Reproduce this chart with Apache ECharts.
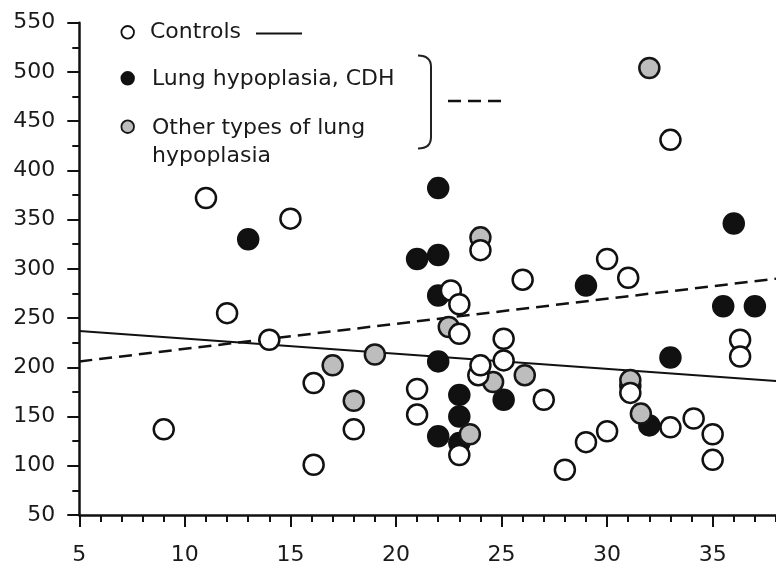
<!DOCTYPE html>
<html>
<head>
<meta charset="utf-8">
<script src="https://cdn.jsdelivr.net/npm/echarts@6/dist/echarts.min.js"></script>
<style>html,body{margin:0;padding:0;background:#fff;}#c{width:776px;height:569px;}</style>
</head>
<body>
<div id="c"></div>
<script>
var xTicks = [5, 10, 15, 20, 25, 30, 35];
var yTicks = [50, 100, 150, 200, 250, 300, 350, 400, 450, 500, 550];

var controls = [
  [9,137],[11,372],[12,255],[14,228],[15,351],[16.1,184],[16.1,101],[18,137],
  [21,178],[21,152],[22.6,278],[23,264],[23,234],[23,111],[24,319],[23.9,192],[24,202],
  [25.1,229],[25.1,207],[26,289],[27,167],[28,96],[29,124],[30,135],[30,310],
  [31,291],[31.1,174],[33,431],[33,139],[34.1,148],[35,132],[35,106],[36.3,228],[36.3,211]
];
var cdh = [
  [13,330],[21,310],[22,314],[22,382],[22,273],[22,206],[22,130],[23,172],[23,150],
  [23,123],[25.1,167],[29,283],[31.1,181],[32,141],[33,210],[35.5,262],[36,346],[37,262]
];
var otherTypes = [
  [17,202],[18,166],[19,213],[22.5,241],[23.5,132],[24,332],[24.6,185],[26.1,192],
  [31.1,187],[31.6,153],[32,504]
];
var controlsFit = [[5,237],[38,186]];
var hypoplasiaFit = [[5,206],[38,290]];

var FONT = 'DejaVu Sans';
var TXT = '#1a1a1a';

var chart = echarts.init(document.getElementById('c'), null, {renderer: 'canvas'});
var option = {
  backgroundColor: '#fff',
  animation: false,
  grid: {left: 79.3, right: 0, top: 22.7, bottom: 54},
  xAxis: [{
    type: 'value', min: 5, max: 38, interval: 5,
    axisLine: {show: true, onZero: false, lineStyle: {color: '#111', width: 2.5}},
    axisTick: {show: true, length: 12, lineStyle: {color: '#111', width: 2}},
    splitLine: {show: false},
    axisLabel: {
      margin: 29, fontFamily: FONT, fontSize: 22, color: TXT, showMaxLabel: false,
      formatter: function (v) { return xTicks.indexOf(v) >= 0 ? String(v) : ''; }
    }
  }, {
    type: 'value', min: 5, max: 38, interval: 1, position: 'bottom', offset: 0,
    axisLine: {show: false, onZero: false},
    axisTick: {show: true, length: 7, lineStyle: {color: '#111', width: 2}},
    splitLine: {show: false},
    axisLabel: {show: false}
  }],
  yAxis: {
    type: 'value', min: 50, max: 550, interval: 50,
    axisLine: {show: true, onZero: false, lineStyle: {color: '#111', width: 2.5}},
    axisTick: {show: true, length: 12, lineStyle: {color: '#111', width: 2}},
    minorTick: {show: true, splitNumber: 2, length: 7, lineStyle: {color: '#111', width: 2}},
    splitLine: {show: false},
    axisLabel: {
      margin: 24, fontFamily: FONT, fontSize: 22, color: TXT,
      formatter: function (v) { return yTicks.indexOf(v) >= 0 ? String(v) : ''; }
    }
  },
  series: [
    {
      name: 'Controls fit', type: 'line', data: controlsFit, symbol: 'none', z: 1,
      lineStyle: {color: '#111', width: 2}, silent: true
    },
    {
      name: 'Lung hypoplasia fit', type: 'line', data: hypoplasiaFit, symbol: 'none', z: 1,
      lineStyle: {color: '#111', width: 2.5, type: [13, 7]}, silent: true
    },
    {
      name: 'Lung hypoplasia, CDH', type: 'scatter', data: cdh, symbol: 'circle', symbolSize: 20, z: 3,
      itemStyle: {color: '#111', borderColor: '#111', borderWidth: 2.5, opacity: 1}
    },
    {
      name: 'Other types of lung hypoplasia', type: 'scatter', data: otherTypes, symbol: 'circle', symbolSize: 20, z: 4,
      itemStyle: {color: '#bdbdbd', borderColor: '#161616', borderWidth: 2.5, opacity: 1}
    },
    {
      name: 'Controls', type: 'scatter', data: controls, symbol: 'circle', symbolSize: 20, z: 5,
      itemStyle: {color: '#fff', borderColor: '#111', borderWidth: 2.5, opacity: 1}
    }
  ],
  graphic: [
    {type: 'circle', shape: {cx: 127.7, cy: 32.3, r: 6.3}, style: {fill: '#fff', stroke: '#111', lineWidth: 1.8}},
    {type: 'text', x: 150, y: 32.5, style: {text: 'Controls', font: '22px "DejaVu Sans"', fill: TXT, textVerticalAlign: 'middle'}},
    {type: 'line', shape: {x1: 256, y1: 33.5, x2: 302, y2: 33.5}, style: {stroke: '#111', lineWidth: 2}},
    {type: 'circle', shape: {cx: 127.7, cy: 78.3, r: 6.3}, style: {fill: '#111', stroke: '#111', lineWidth: 1.8}},
    {type: 'text', x: 152, y: 79, style: {text: 'Lung hypoplasia, CDH', font: '22px "DejaVu Sans"', fill: TXT, textVerticalAlign: 'middle'}},
    {type: 'circle', shape: {cx: 127.7, cy: 126.7, r: 6.3}, style: {fill: '#bdbdbd', stroke: '#161616', lineWidth: 1.8}},
    {type: 'text', x: 152, y: 128, style: {text: 'Other types of lung', font: '22px "DejaVu Sans"', fill: TXT, textVerticalAlign: 'middle'}},
    {type: 'text', x: 152, y: 156, style: {text: 'hypoplasia', font: '22px "DejaVu Sans"', fill: TXT, textVerticalAlign: 'middle'}},
    {type: 'bezierCurve', shape: {x1: 418, y1: 55.5, cpx1: 431, cpy1: 55.5, x2: 431, y2: 67}, style: {fill: 'none', stroke: '#222', lineWidth: 2}},
    {type: 'line', shape: {x1: 431, y1: 66.5, x2: 431, y2: 137.5}, style: {stroke: '#222', lineWidth: 2}},
    {type: 'bezierCurve', shape: {x1: 431, y1: 137, cpx1: 431, cpy1: 148.5, x2: 418, y2: 148.5}, style: {fill: 'none', stroke: '#222', lineWidth: 2}},
    {type: 'line', shape: {x1: 448, y1: 101, x2: 508, y2: 101}, style: {stroke: '#111', lineWidth: 2.5, lineDash: [13, 7]}}
  ]
};
chart.setOption(option);
</script>
</body>
</html>
